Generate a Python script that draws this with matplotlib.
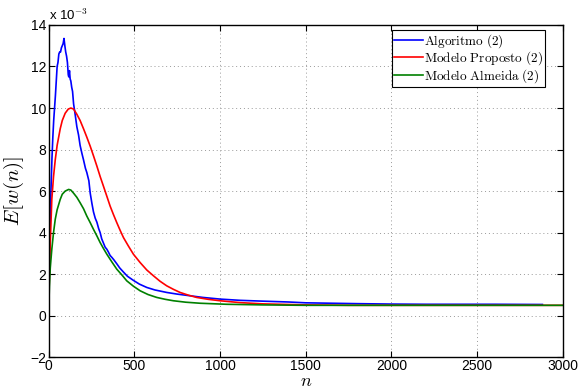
import numpy as np
import matplotlib.pyplot as plt

# valores em unidades de 1e-3
n_alg = [0, 3, 6, 10, 15, 20, 25, 30, 35, 40, 45, 50, 55, 60, 65, 70, 75, 80, 85,
         90, 95, 100, 105, 110, 115, 118, 122, 126, 130, 135, 140, 146, 155, 165,
         175, 184, 195, 204, 215, 223, 235, 243, 253, 262, 272, 282, 292, 301,
         310, 320, 330, 340, 350, 359, 370, 380, 398, 415, 437, 460, 495, 530,
         573, 620, 689, 750, 825, 900, 1000, 1117, 1250, 1400, 1500, 1650, 1800,
         2000, 2200, 2400, 2600, 2880]
e_alg = [-0.3, 1.5, 3.2, 4.8, 6.3, 7.6, 8.6, 9.4, 10.0, 10.6, 11.3, 12.0, 12.2,
         12.6, 12.7, 12.7, 12.9, 13.0, 13.1, 13.35, 13.0, 12.7, 12.5, 12.2,
         11.6, 11.5, 11.8, 11.4, 11.3, 11.0, 10.8, 10.2, 9.7, 9.1, 8.7, 8.2,
         7.8, 7.5, 7.1, 6.9, 6.5, 5.9, 5.4, 5.0, 4.7, 4.5, 4.2, 4.0, 3.7, 3.5,
         3.3, 3.2, 3.05, 2.9, 2.8, 2.7, 2.5, 2.3, 2.1, 1.9, 1.7, 1.52, 1.36,
         1.24, 1.12, 1.04, 0.96, 0.88, 0.80, 0.74, 0.70, 0.66, 0.62, 0.60,
         0.58, 0.56, 0.55, 0.55, 0.55, 0.54]

n_prop = [0, 5, 10, 19, 29, 39, 50, 68, 80, 97, 115, 130, 146, 165, 184, 204,
          223, 243, 262, 282, 301, 320, 340, 359, 378, 398, 418, 437, 466, 495,
          534, 573, 612, 650, 689, 728, 767, 815, 864, 930, 1000, 1117, 1250,
          1500, 1750, 2000, 2500, 3000]
e_prop = [0.0, 2.0, 3.5, 5.6, 6.7, 7.5, 8.2, 9.0, 9.4, 9.75, 9.95, 10.0, 9.95,
          9.7, 9.4, 9.0, 8.6, 8.16, 7.7, 7.2, 6.7, 6.24, 5.75, 5.28, 4.88,
          4.48, 4.1, 3.76, 3.35, 2.96, 2.56, 2.2, 1.92, 1.66, 1.44, 1.27, 1.12,
          0.99, 0.88, 0.79, 0.72, 0.63, 0.57, 0.52, 0.5, 0.5, 0.5, 0.5]

n_alm = [0, 5, 10, 19, 29, 39, 50, 68, 80, 97, 117, 130, 146, 165, 184, 204,
         223, 243, 262, 282, 301, 320, 340, 370, 398, 430, 456, 495, 534, 580,
         631, 680, 728, 800, 884, 1039, 1250, 1500, 2000, 2500, 3000]
e_alm = [0.0, 1.4, 2.3, 3.2, 4.0, 4.64, 5.1, 5.6, 5.85, 6.0, 6.08, 6.05, 5.9,
         5.7, 5.44, 5.15, 4.8, 4.48, 4.16, 3.84, 3.52, 3.24, 2.96, 2.58, 2.24,
         1.94, 1.68, 1.42, 1.2, 1.02, 0.88, 0.79, 0.72, 0.65, 0.6, 0.55, 0.52,
         0.5, 0.5, 0.5, 0.5]

plt.rcParams['mathtext.fontset'] = 'cm'
plt.rcParams['font.family'] = ['Liberation Sans', 'DejaVu Sans']

fig = plt.figure(figsize=(5.78, 3.9), dpi=100)
ax = fig.add_axes([0.084, 0.084, 0.89, 0.852])

ax.plot(n_alg, e_alg, color='#0000ff', linewidth=1.2, label=r'$\mathrm{Algoritmo\ (2)}$')
ax.plot(n_prop, e_prop, color='#ff0000', linewidth=1.2, label=r'$\mathrm{Modelo\ Proposto\ (2)}$')
ax.plot(n_alm, e_alm, color='#008000', linewidth=1.2, label=r'$\mathrm{Modelo\ Almeida\ (2)}$')

ax.set_xlim(0, 3000)
ax.set_ylim(-2, 14)
ax.set_xticks(np.arange(0, 3001, 500))
ax.set_yticks(np.arange(-2, 15, 2))
ax.tick_params(direction='in', top=True, right=True, labelsize=10, length=4,
               width=0.8, pad=1.5)
ax.grid(True, linestyle=(0, (1, 3)), color='#999999', linewidth=0.7)
for s in ax.spines.values():
    s.set_linewidth(1.0)

ax.set_xlabel(r'$n$', fontsize=13, va='top')
ax.xaxis.set_label_coords(0.5, -0.048)
ax.set_ylabel(r'$E[w(n)]$', fontsize=15)
ax.yaxis.set_label_coords(-0.043, 0.5)
ax.text(0.0, 1.005, r'x 10$^{-3}$', transform=ax.transAxes, fontsize=9.5,
        va='bottom', ha='left')

leg = ax.legend(loc='upper right', bbox_to_anchor=(0.97, 0.993), fontsize=9.5,
                handlelength=2.2, handletextpad=0.1, borderpad=0.15,
                labelspacing=0.0, borderaxespad=0.2, fancybox=False)
leg.get_frame().set_edgecolor('black')
leg.get_frame().set_linewidth(0.8)
leg.get_frame().set_alpha(1)

fig.savefig('out.png', dpi=100)
